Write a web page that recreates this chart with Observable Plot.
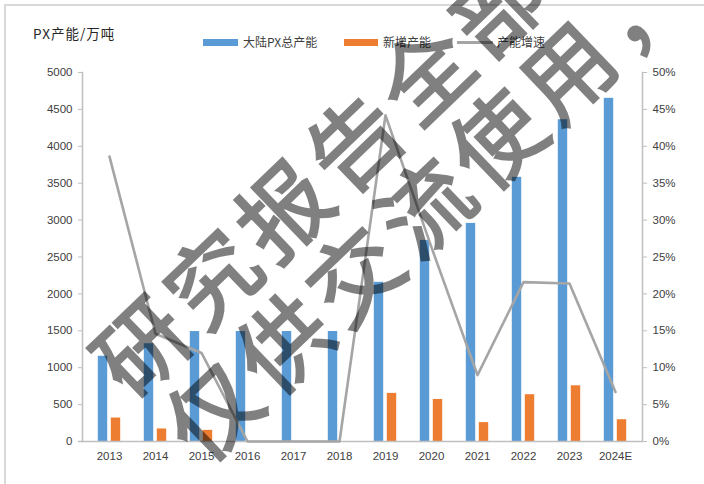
<!DOCTYPE html>
<html>
<head>
<meta charset="utf-8">
<script src="https://cdn.jsdelivr.net/npm/d3@7"></script>
<script src="https://cdn.jsdelivr.net/npm/@observablehq/plot@0.6"></script>
<style>
  body { margin: 0; background: #fff; }
  #wrap { position: relative; width: 704px; height: 484px; overflow: hidden; background: #fff;
          font-family: "Liberation Sans", Arial, sans-serif; }
  #border { position: absolute; left: 4px; top: 4px; right: -10px; bottom: -10px;
            border-top: 2px solid #d9d9d9; border-left: 2px solid #d9d9d9; }
  #chart { position: absolute; left: 0; top: 0; }
  .title { position: absolute; left: 33px; top: 24px; font-family: "Noto Sans CJK SC", sans-serif;
           font-size: 13.5px; letter-spacing: 1px; color: #262626; line-height: 18px; }
  .legend { position: absolute; top: 34px; font-family: "Noto Sans CJK SC", sans-serif; font-size: 12px;
            color: #404040; line-height: 16px; white-space: nowrap; }
  .sw { position: absolute; }
  #mark { position: absolute; left: 0; top: 0; pointer-events: none; }
</style>
</head>
<body>
<div id="wrap">
  <div id="border"></div>
  <div id="chart"></div>
  <div class="title">PX产能/万吨</div>
  <div id="legend"></div>
  <svg id="mark" width="704" height="484"></svg>
</div>
<script>
// Mainland PX capacity (10k t), yearly additions, and capacity growth (%)
const years = ["2013", "2014", "2015", "2016", "2017", "2018", "2019", "2020", "2021", "2022", "2023", "2024E"];
const totalCapacity = [1155, 1325, 1490, 1490, 1490, 1490, 2157, 2725, 2955, 3580, 4360, 4650];
const newCapacity = [318, 170, 151, 0, 0, 0, 652, 570, 256, 634, 755, 295];
const growthPct = [38.6, 14.6, 12.0, 0, 0, 0, 44.2, 26.3, 9.0, 21.6, 21.4, 6.7];

const leftTicks = [0, 500, 1000, 1500, 2000, 2500, 3000, 3500, 4000, 4500, 5000];
const rightTicks = [0, 5, 10, 15, 20, 25, 30, 35, 40, 45, 50];

const seriesNames = ["大陆PX总产能", "新增产能", "产能增速"];
const seriesColors = ["#5b9bd5", "#ed7d31", "#a5a5a5"];

// the right axis (0–50%) shares the left axis range (0–5000)
const PCT = 5000 / 50;

const rows = years.map((year, i) => ({
  year,
  total: totalCapacity[i],
  added: newCapacity[i],
  growth: growthPct[i]
}));

const axisGray = "#bfbfbf";
const textGray = "#404040";

const chart = Plot.plot({
  width: 704,
  height: 484,
  marginTop: 72,
  marginBottom: 43,
  marginLeft: 82,
  marginRight: 62,
  style: { fontFamily: "Liberation Sans, Arial, sans-serif", fontSize: "11.5px", color: textGray, background: "transparent" },
  x: { domain: years, padding: 0, axis: null, label: null },
  y: { domain: [0, 5000], axis: null, label: null },
  marks: [
    Plot.barY(rows, { x: "year", y: "total", fill: seriesColors[0], insetLeft: 11.8, insetRight: 24.8 }),
    Plot.barY(rows, { x: "year", y: "added", fill: seriesColors[1], insetLeft: 24.8, insetRight: 11.8 }),
    Plot.frame({ anchor: "left", stroke: axisGray, strokeWidth: 1.5 }),
    Plot.frame({ anchor: "right", stroke: axisGray, strokeWidth: 1.5 }),
    Plot.ruleY([0], { stroke: axisGray, strokeWidth: 1.5, insetLeft: -4 }),
    Plot.axisY(leftTicks, {
      anchor: "left", tickSize: 4, tickPadding: 6, stroke: axisGray, fill: textGray,
      tickFormat: d => String(d), label: null
    }),
    Plot.axisY(rightTicks.map(p => p * PCT), {
      anchor: "right", tickSize: 4, tickPadding: 6, stroke: axisGray, fill: textGray,
      tickFormat: v => `${Math.round(v / PCT)}%`, label: null
    }),
    Plot.axisX({ anchor: "bottom", tickSize: 0, tickPadding: 10, fill: textGray, label: null }),
    Plot.line(rows, { x: "year", y: d => d.growth * PCT, stroke: seriesColors[2], strokeWidth: 2.6 })
  ]
});
document.getElementById("chart").append(chart);

// legend row above the plot
const legendItems = [
  { swX: 203, swW: 35, textX: 243, kind: "bar" },
  { swX: 344, swW: 34, textX: 383, kind: "bar" },
  { swX: 457, swW: 36, textX: 497, kind: "line" }
];
const legend = document.getElementById("legend");
legendItems.forEach((it, i) => {
  const sw = document.createElement("div");
  sw.className = "sw";
  sw.style.left = it.swX + "px";
  sw.style.width = it.swW + "px";
  sw.style.background = seriesColors[i];
  if (it.kind === "bar") { sw.style.top = "39px"; sw.style.height = "7px"; }
  else { sw.style.top = "41px"; sw.style.height = "2.5px"; }
  legend.append(sw);
  const t = document.createElement("div");
  t.className = "legend";
  t.style.left = it.textX + "px";
  t.textContent = seriesNames[i];
  legend.append(t);
});

// diagonal watermark
const svgNS = "http://www.w3.org/2000/svg";
const markSvg = document.getElementById("mark");
const g = document.createElementNS(svgNS, "g");
g.setAttribute("opacity", "0.5");
markSvg.append(g);
const angle = -43.8;
const stepX = 71, stepY = -68;
const markLines = [
  { text: "研究报告全部", x0: 138, y0: 343 },
  { text: "仅供交流使用，", x0: 209, y0: 408 }
];
markLines.forEach(line => {
  Array.from(line.text).forEach((ch, k) => {
    const cx = line.x0 + k * stepX, cy = line.y0 + k * stepY;
    const t = document.createElementNS(svgNS, "text");
    t.setAttribute("x", 0);
    t.setAttribute("y", 0);
    t.setAttribute("transform", `translate(${cx},${cy}) rotate(${angle})`);
    t.setAttribute("text-anchor", "middle");
    t.setAttribute("dominant-baseline", "central");
    t.setAttribute("font-family", "Noto Sans CJK SC, sans-serif");
    t.setAttribute("font-size", "90");
    t.setAttribute("fill", "#000");
    t.setAttribute("stroke", "#000");
    t.setAttribute("stroke-width", "2.5");
    t.textContent = ch;
    g.append(t);
  });
});
</script>
</body>
</html>
